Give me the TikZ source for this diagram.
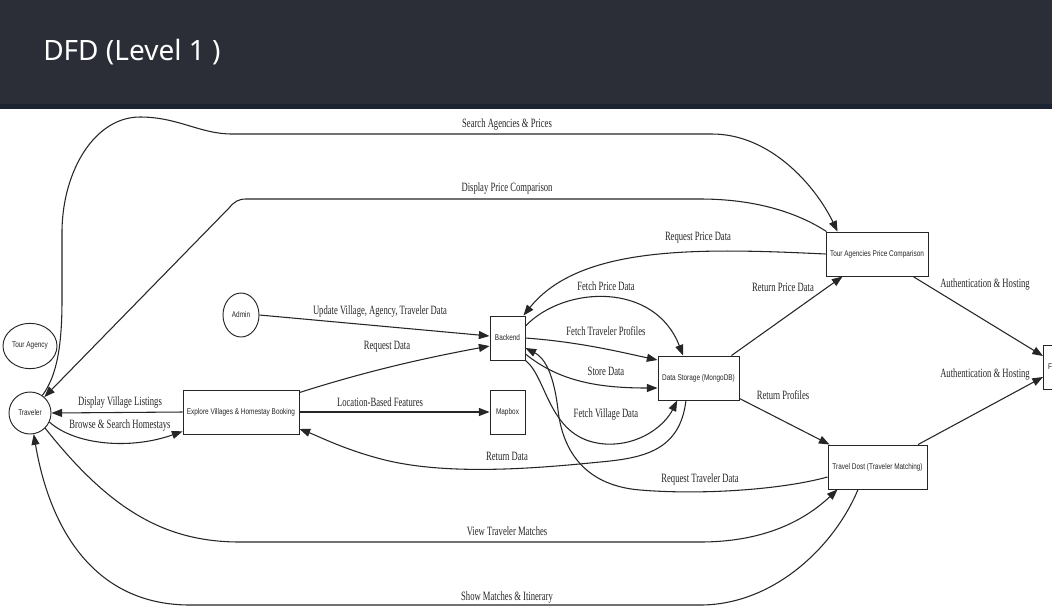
\documentclass[tikz,border=0pt]{standalone}
\usepackage{fontspec}
\usetikzlibrary{arrows.meta,shapes.geometric}
\newfontfamily\titlefont{Noto Sans}
\newfontfamily\flowfont[FakeStretch=0.68]{Liberation Serif}
\newfontfamily\procfont[FakeStretch=0.78]{Liberation Sans}
\definecolor{headbg}{HTML}{2B2E37}
\definecolor{headedge}{HTML}{1C2331}
\definecolor{ink}{HTML}{262626}

\begin{document}
\begin{tikzpicture}[x=0.75pt,y=-0.75pt,
  box/.style={draw=ink, line width=0.7pt, fill=white, rectangle, minimum height=33pt,
              inner sep=1pt, font=\procfont\fontsize{6.2}{7}\selectfont, text=ink},
  ent/.style={draw=ink, line width=0.7pt, fill=white, ellipse, inner sep=0pt,
              font=\procfont\fontsize{6.2}{7}\selectfont, text=ink},
  flow/.style={draw=ink, line width=0.8pt, -{Triangle[length=8pt,width=6pt]}},
  lbl/.style={font=\flowfont\fontsize{9.5}{11}\selectfont, text=ink, inner sep=0pt}
]
\useasboundingbox (0,0) rectangle (1052,608);
\clip (0,0) rectangle (1052,608);

% page header
\fill[white] (0,0) rectangle (1052,608);
\fill[headbg] (0,0) rectangle (1052,105);
\fill[headedge] (0,104) rectangle (1052,109);
\node[anchor=west, text=white, inner sep=0pt,
      font=\titlefont\fontsize{21}{24}\selectfont] (title) at (43,52) {DFD (Level 1 )};

% external entities and processes
\node[ent, minimum width=40.5pt, minimum height=34pt] (tagency) at (30,346) {Tour Agency};
\node[ent, minimum width=31.5pt, minimum height=31.5pt] (trav) at (30,413) {Traveler};
\node[ent, minimum width=27pt, minimum height=33pt] (admin) at (241,315) {Admin};
\node[box, minimum width=87pt] (explore) at (241,412) {Explore Villages \& Homestay Booking};
\node[box, minimum width=26.25pt] (backend) at (507.5,338) {Backend};
\node[box, minimum width=26.25pt] (mapbox) at (507.5,412) {Mapbox};
\node[box, minimum width=60.75pt] (store) at (698.5,378) {Data Storage (MongoDB)};
\node[box, minimum width=76.5pt] (tapc) at (877,254) {Tour Agencies Price Comparison};
\node[box, minimum width=74.25pt] (dost) at (877.5,467) {Travel Dost (Traveler Matching)};
\node[box, anchor=west, minimum width=45pt, inner xsep=3pt, text width=38pt, align=left] (fb) at (1043,367) {F};

% data flows
\draw[flow] (trav.55) .. controls (57,376) and (62,345) .. (62,300) -- (62,230)
  .. controls (63,170) and (95,117) .. (140,117)
  .. controls (178,117) and (200,134) .. (232,134) -- (712,134)
  .. controls (770,134) and (815,185) .. ([xshift=9pt]tapc.north west)
  node[lbl] at (507,124) {Search Agencies \& Prices};

\draw[flow] ([xshift=0.75pt]tapc.north west) .. controls (790,208) and (745,199) .. (700,199)
  -- (246,199) .. controls (238,199) and (234,202) .. (229,208) -- (trav.48)
  node[lbl] at (507,188) {Display Price Comparison};

\draw[flow] (tapc.west) .. controls (700,248) and (580,245) .. ([xshift=-1.5pt]backend.north east)
  node[lbl] at (698,238) {Request Price Data};

\draw[flow] ([yshift=9pt]backend.east) .. controls (565,285) and (655,282) .. ([xshift=-11.6pt]store.north)
  node[lbl] at (606,286) {Fetch Price Data};

\draw[flow] (backend.east) .. controls (580,342) and (620,352) .. ([yshift=13.5pt]store.west)
  node[lbl] at (606,331) {Fetch Traveler Profiles};

\draw[flow] ([yshift=-12pt]backend.east) .. controls (560,382) and (600,388) .. ([yshift=-7.5pt]store.west)
  node[lbl] at (606,371) {Store Data};

\draw[flow] (backend.south east) .. controls (548,378) and (548,440) .. (605,444)
  .. controls (640,446) and (665,425) .. ([xshift=-16pt]store.south)
  node[lbl] at (606,414) {Fetch Village Data};

\draw[flow] ([xshift=-9.4pt]store.south) .. controls (680,450) and (645,458) .. (600,462)
  .. controls (540,468) and (450,476) .. (385,460)
  .. controls (345,450) and (318,436) .. ([yshift=-12.75pt]explore.east)
  node[lbl] at (507,456) {Return Data};

\draw[flow] ([yshift=-7.5pt]dost.west) .. controls (780,490) and (700,495) .. (640,490)
  .. controls (580,485) and (562,445) .. (558,410)
  .. controls (554,375) and (545,358) .. ([yshift=-7.5pt]backend.east)
  node[lbl] at (700,479) {Request Traveler Data};

\draw[flow] ([xshift=-6pt]store.north east) -- ([xshift=12.75pt]tapc.south west)
  node[lbl] at (783,287) {Return Price Data};

\draw[flow] ([yshift=1.5pt]store.south east) -- ([xshift=1.5pt]dost.north west)
  node[lbl] at (783,395) {Return Profiles};

\draw[flow] ([xshift=27pt]tapc.south) -- ([yshift=8.25pt]fb.west)
  node[lbl] at (985,284) {Authentication \& Hosting};

\draw[flow] ([xshift=30.4pt]dost.north) -- ([yshift=-7.5pt]fb.west)
  node[lbl] at (985,374) {Authentication \& Hosting};

\draw[flow] (admin.east) -- ([yshift=1.5pt]backend.west)
  node[lbl] at (380,311) {Update Village, Agency, Traveler Data};

\draw[flow] ([yshift=-2.25pt]explore.north east) .. controls (370,370) and (430,357) .. ([yshift=-6pt]backend.west)
  node[lbl] at (387,347) {Request Data};

\draw[flow] (explore.east) -- (mapbox.west)
  node[lbl] at (380,402) {Location-Based Features};

\draw[flow] (explore.west) -- (trav.east)
  node[lbl] at (120,402) {Display Village Listings};

\draw[flow] (trav.-25) .. controls (75,445) and (130,450) .. ([yshift=-14.5pt]explore.west)
  node[lbl] at (120,425) {Browse \& Search Homestays};

\draw[flow] (trav.-45) .. controls (110,510) and (165,542) .. (240,542) -- (700,542)
  .. controls (765,542) and (805,520) .. ([xshift=7.5pt]dost.south west)
  node[lbl] at (507,531) {View Traveler Matches};

\draw[flow] ([xshift=-14.6pt]dost.south) .. controls (835,545) and (775,605) .. (700,605)
  -- (190,605) .. controls (95,605) and (50,530) .. (trav.-80)
  node[lbl] at (507,597) {Show Matches \& Itinerary};
\end{tikzpicture}
\end{document}
